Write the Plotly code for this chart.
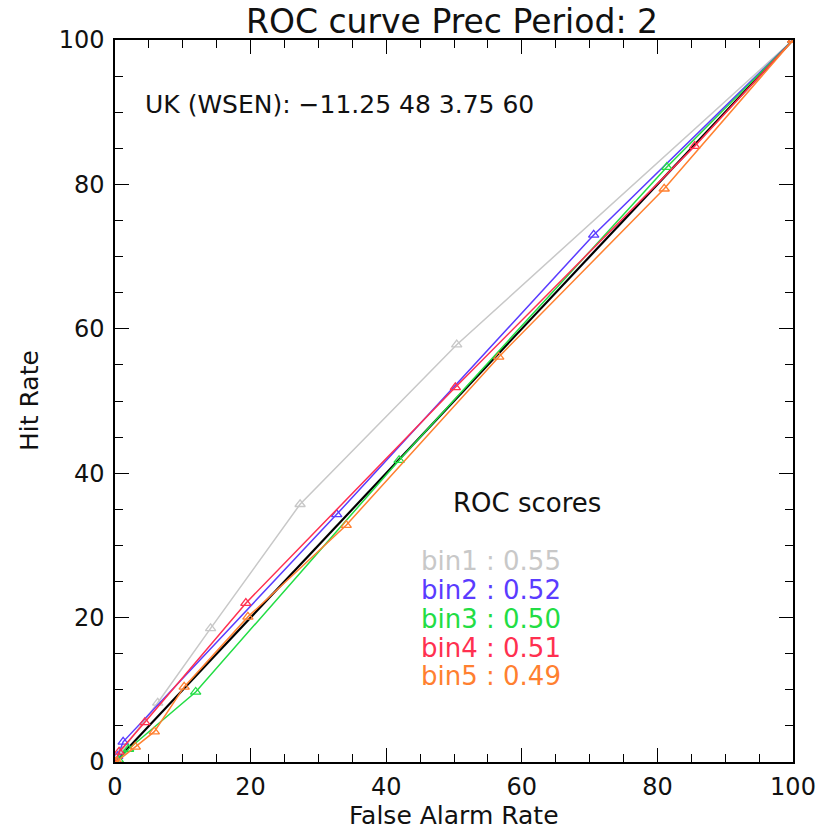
import plotly.graph_objects as go

# ---- data (False Alarm Rate %, Hit Rate %) ----
bin1_far = [0, 1.0, 6.3, 14.1, 27.3, 50.4, 100]
bin1_hr = [0, 1.5, 8.2, 18.5, 35.7, 57.8, 100]
bin2_far = [0, 0.4, 1.2, 32.7, 70.6, 100]
bin2_hr = [0, 0.8, 2.8, 34.3, 73.0, 100]
bin3_far = [0, 0.5, 2.0, 11.9, 41.9, 81.4, 100]
bin3_hr = [0, 0.3, 1.8, 9.7, 41.8, 82.4, 100]
bin4_far = [0, 0.6, 4.4, 19.3, 50.2, 85.5, 100]
bin4_hr = [0, 1.4, 5.5, 22.0, 51.9, 85.3, 100]
bin5_far = [0, 0.3, 3.0, 5.8, 10.2, 19.6, 34.1, 56.6, 81.0, 100]
bin5_hr = [0, 0.1, 2.1, 4.2, 10.4, 20.1, 32.8, 56.1, 79.4, 100]
diag = [0, 100]

names = ["bin1", "bin2", "bin3", "bin4", "bin5"]
scores = ["0.55", "0.52", "0.50", "0.51", "0.49"]
colors = ["#c8c8c8", "#5a3cff", "#22dd44", "#ff3050", "#ff8030"]
series = [(bin1_far, bin1_hr), (bin2_far, bin2_hr), (bin3_far, bin3_hr),
          (bin4_far, bin4_hr), (bin5_far, bin5_hr)]

FONT = "DejaVu Sans"
TXT = "#111111"

fig = go.Figure()
fig.add_trace(go.Scatter(x=diag, y=diag, mode="lines",
                         line=dict(color="black", width=2.2), showlegend=False))
for (fx, hy), c, n in zip(series, colors, names):
    fig.add_trace(go.Scatter(x=fx, y=hy, mode="lines+markers", name=n,
                             line=dict(color=c, width=1.5),
                             marker=dict(symbol="triangle-up-open", size=9,
                                         color=c, line=dict(width=1.3)),
                             showlegend=False))

ann = []
ann.append(dict(x=4.2, y=91, xref="x", yref="y", text="UK (WSEN): \u221211.25 48 3.75 60",
                showarrow=False, xanchor="left", yanchor="middle",
                font=dict(family=FONT, size=25, color=TXT)))
ann.append(dict(x=49.6, y=35.9, xref="x", yref="y", text="ROC scores",
                showarrow=False, xanchor="left", yanchor="middle",
                font=dict(family=FONT, size=26, color=TXT)))
ys = [27.8, 23.8, 19.8, 15.8, 11.9]
for n, s, c, yy in zip(names, scores, colors, ys):
    ann.append(dict(x=44.9, y=yy, xref="x", yref="y", text=f"{n} : {s}",
                    showarrow=False, xanchor="left", yanchor="middle",
                    font=dict(family=FONT, size=26, color=c)))
# axis titles (plot area spans 115..793 px horizontally, 40..762 px vertically)
ann.append(dict(x=0.5, y=(762 - 815) / 722.0, xref="paper", yref="paper",
                text="False Alarm Rate", showarrow=False,
                xanchor="center", yanchor="middle",
                font=dict(family=FONT, size=25, color=TXT)))
ann.append(dict(x=(29 - 115) / 678.0, y=(762 - 400) / 722.0, xref="paper", yref="paper",
                text="Hit Rate", showarrow=False, xanchor="center", yanchor="middle",
                textangle=-90, font=dict(family=FONT, size=25, color=TXT)))

axis_common = dict(range=[0, 100], showgrid=False, zeroline=False, automargin=False,
                   showline=True, linecolor="black", linewidth=1.5, mirror="ticks",
                   ticks="inside", ticklen=14, tickwidth=1.3, tickcolor="black",
                   tickvals=[0, 20, 40, 60, 80, 100],
                   minor=dict(ticks="inside", ticklen=8, tickwidth=1.3,
                              tickcolor="black", dtick=5, showgrid=False),
                   tickfont=dict(family=FONT, size=24, color=TXT))

fig.update_layout(
    width=819, height=829,
    margin=dict(l=115, r=26, t=40, b=67, autoexpand=False),
    paper_bgcolor="white", plot_bgcolor="white",
    title=dict(text="ROC curve Prec Period: 2", x=(452 - 115) / 678.0,
               xref="paper", xanchor="center",
               y=1 - 21 / 829, yanchor="middle", automargin=False,
               font=dict(family=FONT, size=33, color=TXT)),
    xaxis=dict(**axis_common, ticklabelstandoff=2),
    yaxis=dict(**axis_common, ticklabelstandoff=4),
    annotations=ann,
)

fig.write_html("out.html", config={"displayModeBar": False},
               post_script="document.body.style.margin='0';document.body.style.padding='0';")
